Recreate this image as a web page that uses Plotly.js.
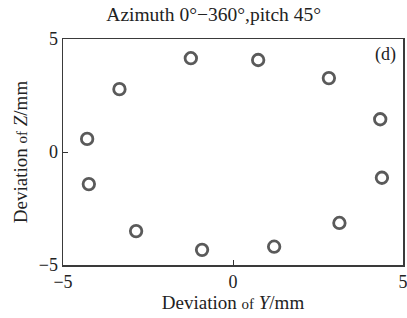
<!DOCTYPE html>
<html><head><meta charset="utf-8">
<script src="https://cdn.plot.ly/plotly-3.0.1.min.js"></script>
<style>body{margin:0;padding:0;background:#fff}#chart{width:407px;height:318px}</style>
</head><body><div id="chart"></div>
<script>
const devY = [-1.24, 0.74, 2.82, 4.33, 4.38, 3.13, 1.21, -0.91, -2.85, -4.24, -4.29, -3.34];
const devZ = [4.15, 4.07, 3.27, 1.45, -1.14, -3.14, -4.19, -4.33, -3.50, -1.42, 0.58, 2.78];
const xTicks = [-5, 0, 5];
const yTicks = [-5, 0, 5];
const titleText = 'Azimuth 0°−360°,pitch 45°';
const panelLabel = '(d)';

const font = 'Liberation Serif, Times New Roman, serif';
const axisCommon = {
  range: [-5, 5], showgrid: false, zeroline: false,
  showline: true, mirror: true, linecolor: '#3a3a3a', linewidth: 1.5,
  ticks: 'inside', ticklen: 5, tickwidth: 1, tickcolor: '#333',
  ticklabeloverflow: 'allow',
  tickfont: {family: font, size: 18, color: '#222'}
};
Plotly.newPlot('chart', [{
  x: devY, y: devZ, mode: 'markers', type: 'scatter',
  marker: {symbol: 'circle-open', size: 11.5, color: '#5a5a5a', line: {width: 2.8, color: '#5a5a5a'}},
  cliponaxis: false, hoverinfo: 'none'
}], {
  width: 407, height: 318,
  margin: {l: 63, r: 4, t: 39, b: 53},
  paper_bgcolor: '#fff', plot_bgcolor: '#fff',
  showlegend: false,
  title: {text: titleText, font: {family: font, size: 19.5, color: '#222'}, x: 0.525, xanchor: 'center', y: 0.955, yanchor: 'middle'},
  xaxis: Object.assign({}, axisCommon, {tickvals: xTicks, ticktext: xTicks.map(v => v < 0 ? '−' + Math.abs(v) : String(v)),
    title: {text: 'Deviation <span style="font-size:15px">of</span> <i>Y</i>/mm', font: {family: font, size: 19, color: '#222'}, standoff: 4}}),
  yaxis: Object.assign({}, axisCommon, {tickvals: yTicks, ticktext: yTicks.map(v => v < 0 ? '−' + Math.abs(v) : String(v)),
    title: {text: 'Deviation <span style="font-size:15px">of</span> <i>Z</i>/mm', font: {family: font, size: 19, color: '#222'}, standoff: 6}}),
  annotations: [{text: panelLabel, xref: 'paper', yref: 'paper', x: 0.985, y: 0.985, xanchor: 'right', yanchor: 'top', showarrow: false,
    font: {family: font, size: 18, color: '#222'}}]
}, {staticPlot: true});
</script></body></html>
